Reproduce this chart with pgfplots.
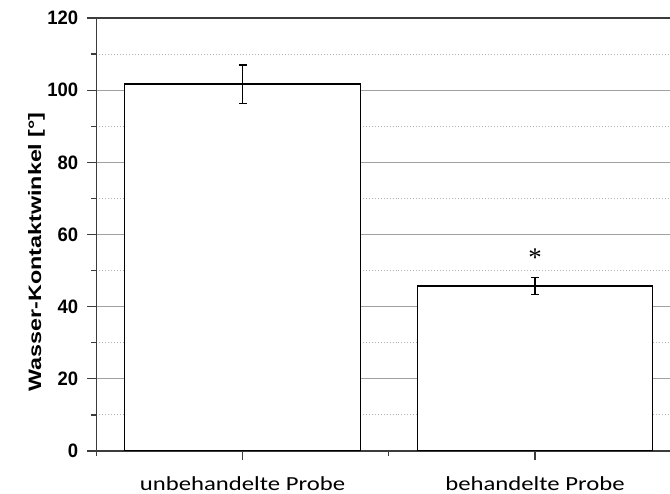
\documentclass[border=0pt]{standalone}
\usepackage{pgfplots}
\pgfplotsset{compat=1.18}
\usepackage{fontspec}
\setmainfont{Liberation Sans}
\newfontfamily\tickfont[FakeStretch=0.95]{Liberation Sans}
\newfontfamily\labelfont[FakeStretch=1.30]{Liberation Sans}
\newfontfamily\catfont[FakeStretch=1.24]{Carlito}
\newfontfamily\starfont{Liberation Serif}
\definecolor{axiscol}{HTML}{3C3C3C}
\definecolor{majgrid}{HTML}{A0A0A0}
\definecolor{mingrid}{HTML}{B4B4B4}
\begin{document}
\begin{tikzpicture}
\begin{axis}[
  scale only axis,
  width=573.75bp, height=433bp,
  xmin=-0.5, xmax=1.4615,
  ymin=0, ymax=120,
  axis x line*=bottom, axis y line*=left,
  axis line style={draw=axiscol, line width=1.3bp},
  tick align=outside,
  major tick length=9bp, minor tick length=5bp,
  major tick style={draw=axiscol, line width=1.2bp},
  minor tick style={draw=axiscol, line width=1.2bp},
  xtick={0,1},
  xticklabels={unbehandelte Probe, behandelte Probe},
  minor xtick={-0.5,0.5},
  xticklabel style={font=\catfont\fontsize{20}{20}\selectfont, anchor=base, inner sep=0pt, yshift=-30bp},
  ytick={0,20,...,100},
  minor ytick={10,30,...,110},
  extra y ticks={120},
  extra y tick style={grid=major, major grid style={draw=axiscol, line width=2bp, solid}},
  /pgf/number format/assume math mode=true,
  yticklabel style={font=\tickfont\bfseries\fontsize{19.5}{20}\selectfont, anchor=east, inner sep=0pt, xshift=-9bp},
  ymajorgrids, yminorgrids,
  major grid style={draw=majgrid, line width=1bp},
  minor grid style={draw=mingrid, line width=1bp, dotted},
  ylabel={Wasser-Kontaktwinkel [°]},
  ylabel style={font=\labelfont\bfseries\fontsize{18}{18}\selectfont, at={([xshift=-55bp]rel axis cs:0,0.46)}, anchor=base, inner sep=0pt},
]
\addplot[ybar, bar width=0.805, fill=white, draw=black, line width=1.3bp,
  error bars/.cd, y dir=both, y explicit,
  error bar style={line width=1.3bp, black},
  error mark options={rotate=90, mark size=4bp, line width=1.3bp, black}]
  coordinates {(0,101.7) +- (0,5.3) (1,45.7) +- (0,2.3)};
\addplot[draw=none, mark=none, forget plot, point meta=y,
  nodes near coords={\starfont\fontsize{27}{27}\selectfont *},
  every node near coord/.append style={anchor=center, inner sep=0pt}]
  coordinates {(1,53.5)};
\coordinate (sw) at (rel axis cs:0,0);
\end{axis}
\pgfresetboundingbox
\path[use as bounding box] ([shift={(-96.25bp,-43bp)}]sw) rectangle +(670bp,494bp);
\end{tikzpicture}
\end{document}
